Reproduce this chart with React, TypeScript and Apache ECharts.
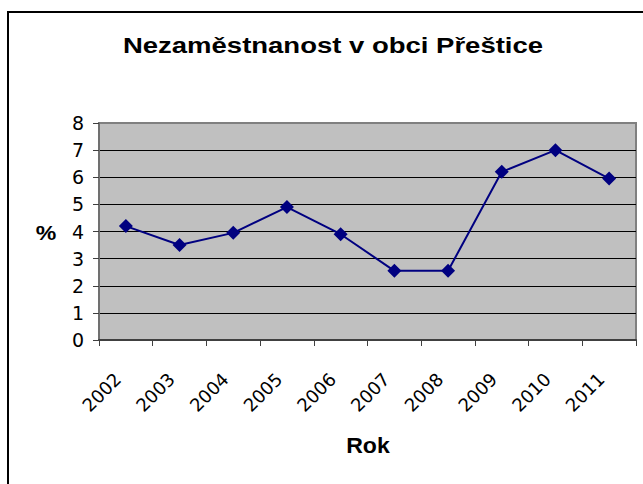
import React, { useEffect, useRef } from "react";
import * as echarts from "echarts";

const years = ["2002", "2003", "2004", "2005", "2006", "2007", "2008", "2009", "2010", "2011"];
const unemployment = [4.2, 3.5, 3.95, 4.9, 3.9, 2.55, 2.55, 6.2, 7.0, 5.95];
const yTicks = [0, 1, 2, 3, 4, 5, 6, 7, 8];
const titleText = "Nezaměstnanost v obci Přeštice";
const yName = "%";
const xName = "Rok";

const SANS = "'Liberation Sans', Arial, sans-serif";
const WIDE = "'DejaVu Sans', 'Liberation Sans', sans-serif";

export default function App() {
  const ref = useRef<HTMLDivElement>(null);
  useEffect(() => {
    if (!ref.current) return;
    const chart = echarts.init(ref.current, null, { renderer: "svg" });
    const splitColors = yTicks.map((t) => (t === yTicks[yTicks.length - 1] ? "#808080" : "#000000"));
    chart.setOption({
      animation: false,
      backgroundColor: "#ffffff",
      grid: [
        {
          left: 99,
          top: 123,
          right: 7,
          bottom: 144,
          show: true,
          backgroundColor: "#C0C0C0",
          borderColor: "#808080",
          borderWidth: 2,
        },
        // label-only grid, same width, shifted left so the rotated labels sit like Excel's
        { left: 91, top: 123, right: 15, bottom: 144, show: false },
      ],
      xAxis: [
        {
          type: "category",
          gridIndex: 0,
          data: years,
          boundaryGap: true,
          axisLine: { show: true, lineStyle: { color: "#404040", width: 2 } },
          axisTick: { show: true, interval: 0, length: 6, lineStyle: { color: "#404040", width: 1 } },
          axisLabel: { show: false },
          splitLine: { show: false },
        },
        {
          type: "category",
          gridIndex: 1,
          data: years,
          boundaryGap: true,
          axisLine: { show: false },
          axisTick: { show: false },
          splitLine: { show: false },
          axisLabel: {
            interval: 0,
            rotate: 45,
            margin: 36,
            color: "#000000",
            fontSize: 18,
            fontFamily: WIDE,
          },
        },
      ],
      yAxis: [
        {
          type: "value",
          gridIndex: 0,
          min: 0,
          max: 8,
          interval: 1,
          axisLine: { show: true, lineStyle: { color: "#707070", width: 2 } },
          axisTick: { show: true, length: 6, lineStyle: { color: "#404040", width: 1 } },
          axisLabel: {
            margin: 15,
            color: "#000000",
            fontSize: 19,
            fontFamily: WIDE,
          },
          splitLine: { show: true, lineStyle: { color: splitColors, width: 1 } },
        },
        {
          type: "value",
          gridIndex: 1,
          min: 0,
          max: 8,
          interval: 1,
          show: false,
        },
      ],
      series: [
        {
          type: "line",
          xAxisIndex: 0,
          yAxisIndex: 0,
          data: unemployment,
          symbol: "diamond",
          symbolSize: 14,
          lineStyle: { color: "#000080", width: 2 },
          itemStyle: { color: "#000080" },
        },
      ],
      graphic: [
        {
          type: "rect",
          shape: { x: 8, y: 12, width: 700, height: 600 },
          style: { fill: "none", stroke: "#000000", lineWidth: 2 },
          silent: true,
        },
        {
          type: "text",
          x: 333,
          y: 45,
          scaleX: 1.25,
          style: {
            text: titleText,
            fontSize: 22,
            fontWeight: "bold",
            fontFamily: SANS,
            fill: "#000000",
            align: "center",
            verticalAlign: "middle",
          },
        },
        {
          type: "text",
          x: 46,
          y: 233,
          scaleX: 1.1,
          style: {
            text: yName,
            fontSize: 21,
            fontWeight: "bold",
            fontFamily: SANS,
            fill: "#000000",
            align: "center",
            verticalAlign: "middle",
          },
        },
        {
          type: "text",
          x: 368,
          y: 446,
          scaleX: 1.05,
          style: {
            text: xName,
            fontSize: 22,
            fontWeight: "bold",
            fontFamily: SANS,
            fill: "#000000",
            align: "center",
            verticalAlign: "middle",
          },
        },
      ],
    });
    return () => chart.dispose();
  }, []);
  return (
    <div
      ref={ref}
      style={{ position: "absolute", left: 0, top: 0, width: 643, height: 484 }}
    />
  );
}
